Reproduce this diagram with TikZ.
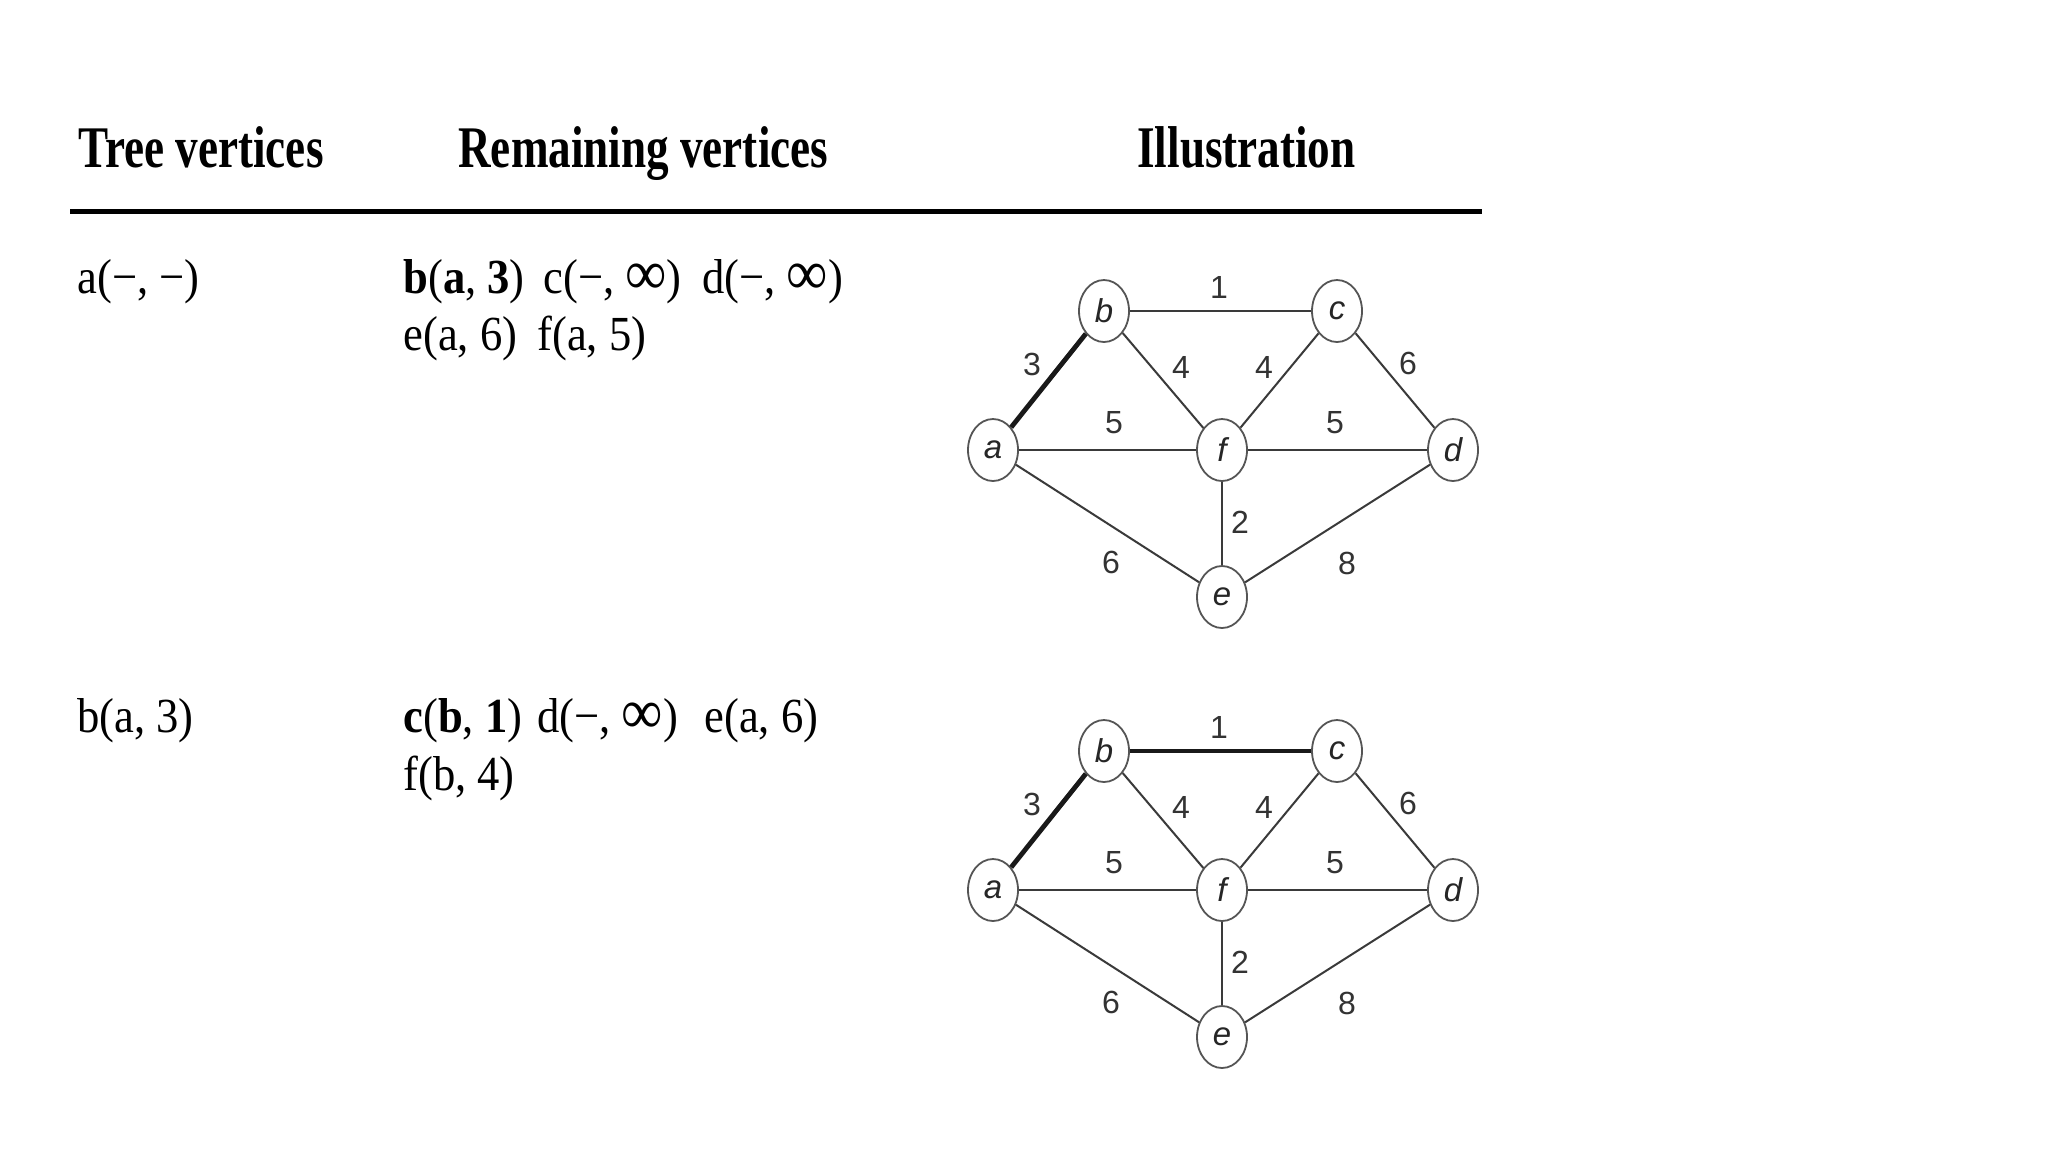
\documentclass[tikz,border=0pt]{standalone}
\usepackage{fontspec}
\usetikzlibrary{shapes.geometric}
\newfontfamily\hdrfont[FakeStretch=0.765]{Liberation Serif}
\newfontfamily\bodyfont[FakeStretch=0.91]{Liberation Serif}
\newfontfamily\grfont{Liberation Sans}
\definecolor{edgec}{HTML}{3A3A3A}
\definecolor{vtxc}{HTML}{555555}
\newcommand{\myinf}{\raisebox{-0.04em}{\scalebox{1.3}{∞}}}
\tikzset{
  hdr/.style={anchor=base west, inner sep=0pt, font=\hdrfont\bfseries\fontsize{29.5pt}{30pt}\selectfont},
  body/.style={anchor=base west, inner sep=0pt, font=\bodyfont\fontsize{24.5pt}{26pt}\selectfont},
  vtx/.style={ellipse, draw=vtxc, line width=0.9pt, minimum width=25pt, minimum height=31pt, inner sep=0pt, text=black!85, font=\grfont\itshape\fontsize{16.5pt}{17pt}\selectfont},
  wlab/.style={inner sep=0pt, text=black!80, font=\grfont\fontsize{16pt}{16pt}\selectfont},
  edg/.style={draw=edgec, line width=1pt},
  tree/.style={draw=black!90, line width=2.4pt},
}
\begin{document}
\begin{tikzpicture}[x=0.5pt,y=-0.5pt]
\useasboundingbox[fill=white] (0,0) rectangle (2048,1152);
% header
\node[hdr] (h1) at (78,167) {Tree vertices};
\node[hdr] (h2) at (458,167) {Remaining vertices};
\node[hdr] (h3) at (1137,167) {Illustration};
\coordinate (rl) at (70,211);
\coordinate (rr) at (1482,211);
\draw[line width=2.5pt] (rl) -- (rr);
% row 1 text
\node[body] (t1) at (77,293) {a(−, −)};
\node[body] (r1a) at (403,293) {\bfseries b\mdseries(\bfseries a\mdseries, \bfseries 3\mdseries)};
\node[body] (r1b) at (543,293) {c(−, \myinf)};
\node[body] (r1c) at (702,293) {d(−, \myinf)};
\node[body] (r1d) at (403,350) {e(a, 6)};
\node[body] (r1e) at (537,350) {f(a, 5)};
% row 2 text
\node[body] (t2) at (77,732) {b(a, 3)};
\node[body] (r2a) at (403,732) {\bfseries c\mdseries(\bfseries b\mdseries, \bfseries 1\mdseries)};
\node[body] (r2b) at (537,732) {d(−, \myinf)};
\node[body] (r2c) at (704,732) {e(a, 6)};
\node[body] (r2d) at (403,790) {f(b, 4)};
% graph 1
\node[vtx] (Aa) at (993,450) {a};
\node[vtx] (Ab) at (1104,311) {b};
\node[vtx] (Ac) at (1337,311) {c};
\node[vtx] (Ad) at (1453,450) {d};
\node[vtx] (Af) at (1222,450) {f};
\node[vtx] (Ae) at (1222,597) {e};
\draw[tree] (Aa) -- (Ab);
\draw[edg] (Ab) -- (Ac);
\draw[edg] (Ab) -- (Af);
\draw[edg] (Ac) -- (Af);
\draw[edg] (Ac) -- (Ad);
\draw[edg] (Aa) -- (Af);
\draw[edg] (Af) -- (Ad);
\draw[edg] (Af) -- (Ae);
\draw[edg] (Aa) -- (Ae);
\draw[edg] (Ae) -- (Ad);
\node[wlab] (Aw1) at (1219,287) {1};
\node[wlab] (Aw2) at (1032,364) {3};
\node[wlab] (Aw3) at (1181,367) {4};
\node[wlab] (Aw4) at (1264,367) {4};
\node[wlab] (Aw5) at (1408,363) {6};
\node[wlab] (Aw6) at (1114,423) {5};
\node[wlab] (Aw7) at (1335,423) {5};
\node[wlab] (Aw8) at (1240,522) {2};
\node[wlab] (Aw9) at (1111,562) {6};
\node[wlab] (Aw10) at (1347,563) {8};
% graph 2
\node[vtx] (Ba) at (993,890) {a};
\node[vtx] (Bb) at (1104,751) {b};
\node[vtx] (Bc) at (1337,751) {c};
\node[vtx] (Bd) at (1453,890) {d};
\node[vtx] (Bf) at (1222,890) {f};
\node[vtx] (Be) at (1222,1037) {e};
\draw[tree] (Ba) -- (Bb);
\draw[tree] (Bb) -- (Bc);
\draw[edg] (Bb) -- (Bf);
\draw[edg] (Bc) -- (Bf);
\draw[edg] (Bc) -- (Bd);
\draw[edg] (Ba) -- (Bf);
\draw[edg] (Bf) -- (Bd);
\draw[edg] (Bf) -- (Be);
\draw[edg] (Ba) -- (Be);
\draw[edg] (Be) -- (Bd);
\node[wlab] (Bw1) at (1219,727) {1};
\node[wlab] (Bw2) at (1032,804) {3};
\node[wlab] (Bw3) at (1181,807) {4};
\node[wlab] (Bw4) at (1264,807) {4};
\node[wlab] (Bw5) at (1408,803) {6};
\node[wlab] (Bw6) at (1114,863) {5};
\node[wlab] (Bw7) at (1335,863) {5};
\node[wlab] (Bw8) at (1240,962) {2};
\node[wlab] (Bw9) at (1111,1002) {6};
\node[wlab] (Bw10) at (1347,1003) {8};
\end{tikzpicture}
\end{document}
